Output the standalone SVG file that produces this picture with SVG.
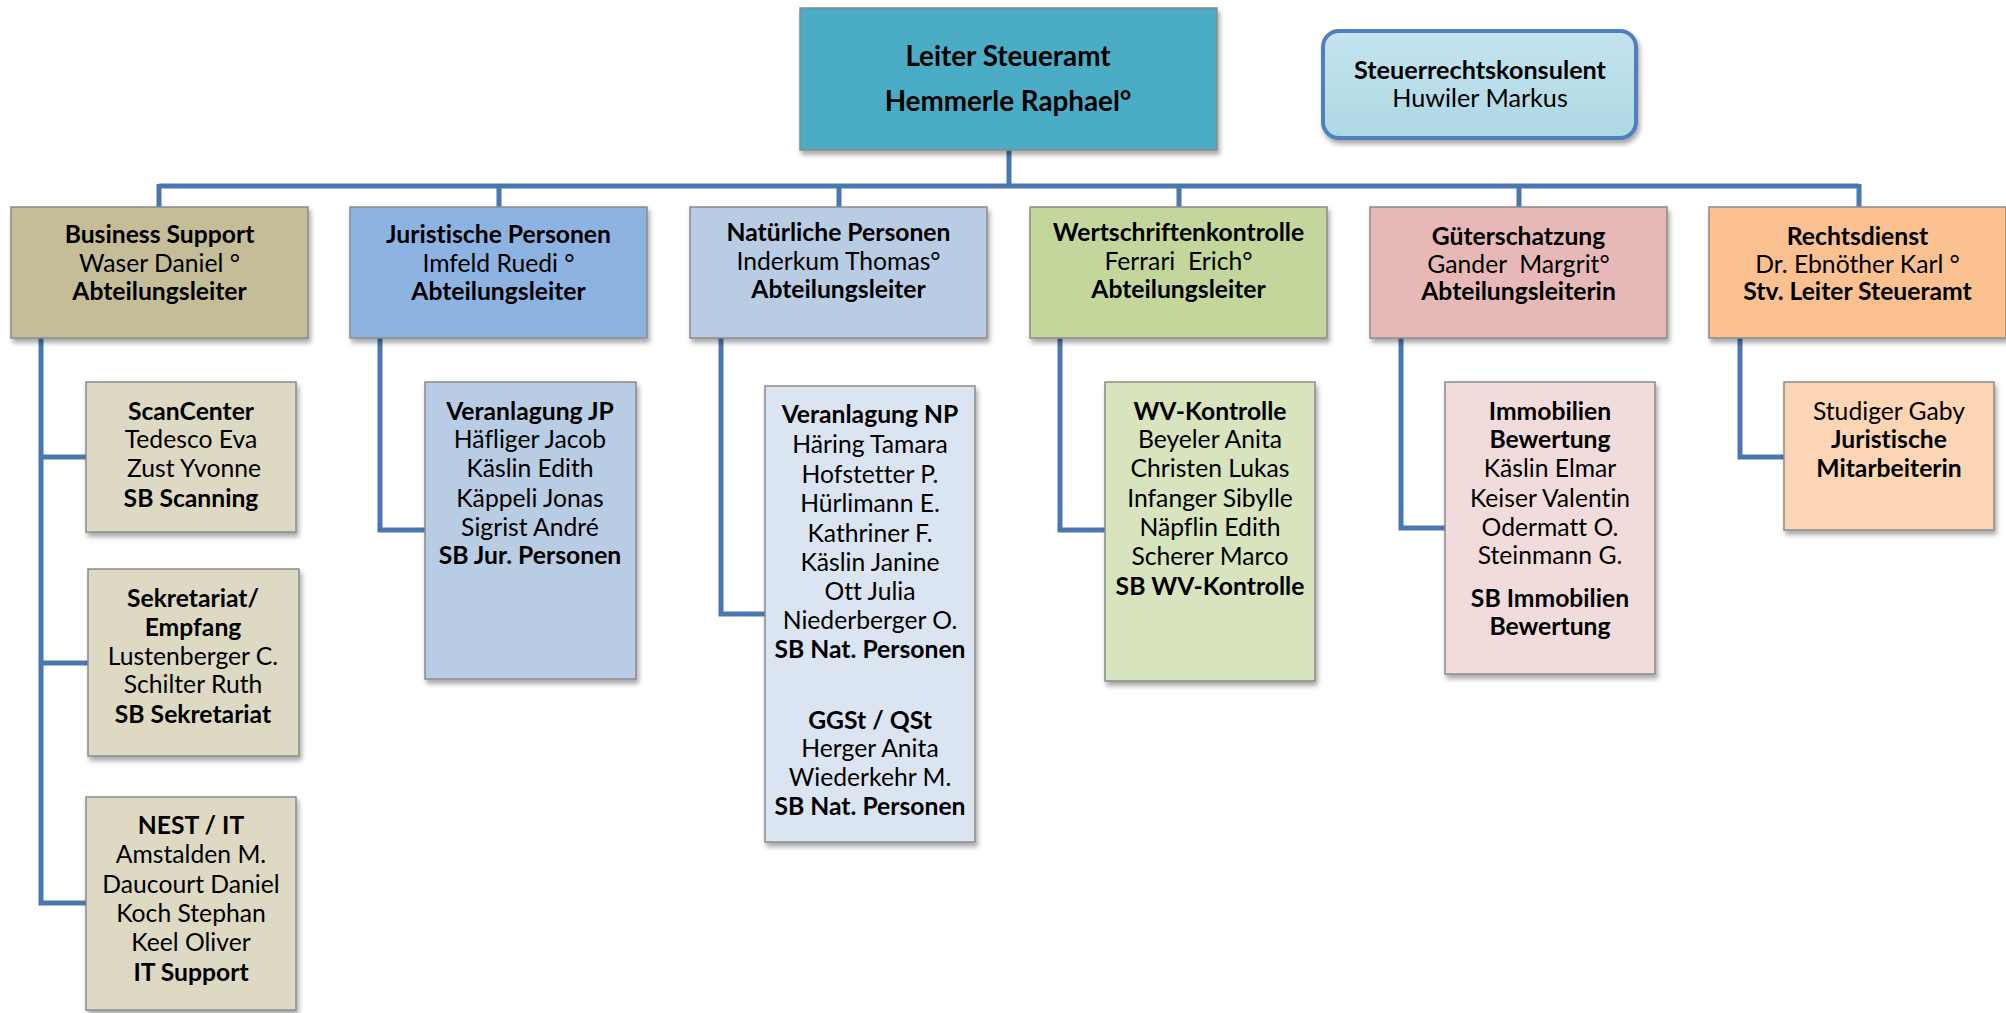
<svg xmlns="http://www.w3.org/2000/svg" width="2006" height="1013" viewBox="0 0 2006 1013">
<defs>
<filter id="sh" x="-10%" y="-10%" width="125%" height="125%">
<feDropShadow dx="2" dy="4" stdDeviation="2.5" flood-color="#000" flood-opacity="0.35"/>
</filter>
<linearGradient id="kg" x1="0" y1="0" x2="0" y2="1">
<stop offset="0" stop-color="#C4E4EE"/>
<stop offset="1" stop-color="#ADD8E4"/>
</linearGradient>
</defs>
<style>
text{font-family:Lato,"Liberation Sans",sans-serif;font-size:24.7px;fill:#000;text-anchor:middle;white-space:pre;font-variant-ligatures:none;font-feature-settings:"liga" 0,"dlig" 0}
.b{font-weight:bold}
text.big{font-size:27.8px}
text.k{font-size:25.2px}
.box{stroke:#8A8A8A;stroke-width:1.5;filter:url(#sh)}
.con{fill:none;stroke:#4A76B2;stroke-width:5;stroke-linejoin:miter}
</style>
<rect width="2006" height="1013" fill="#fff"/>
<g id="connectors">
<path class="con" d="M1009 150V186M159 186H1859M159 184V207M499 184V207M839 184V207M1179 184V207M1519 184V207M1859 184V207"/>
<path class="con" d="M41 338V903H86M41 457H86M41 663H88"/>
<path class="con" d="M380 338V530H425"/>
<path class="con" d="M721 338V614H765"/>
<path class="con" d="M1060 338V530H1105"/>
<path class="con" d="M1401 338V528H1445"/>
<path class="con" d="M1740 338V457H1784"/>
</g>
<g id="leiter">
<rect class="box" x="800" y="8" width="417" height="142" fill="#4BACC6"/>
<text class="b big" x="1008" y="66">Leiter Steueramt</text>
<text class="b big" x="1008" y="111">Hemmerle Raphael°</text>
</g>
<g id="konsulent">
<rect x="1323" y="31" width="313" height="107" rx="16" fill="url(#kg)" stroke="#4F7FBE" stroke-width="4" filter="url(#sh)"/>
<text class="b k" x="1480" y="79">Steuerrechtskonsulent</text>
<text class="k" x="1480" y="107">Huwiler Markus</text>
</g>
<g id="business-support">
<rect class="box" x="11" y="207" width="297" height="131" fill="#C4BD97"/>
<text class="b" x="159.5" y="243">Business Support</text>
<text x="159.5" y="272">Waser Daniel °</text>
<text class="b" x="159.5" y="300">Abteilungsleiter</text>
</g>
<g id="juristische-personen">
<rect class="box" x="350" y="207" width="297" height="131" fill="#8DB3E2"/>
<text class="b" x="498.5" y="243">Juristische Personen</text>
<text x="498.5" y="272">Imfeld Ruedi °</text>
<text class="b" x="498.5" y="300">Abteilungsleiter</text>
</g>
<g id="natuerliche-personen">
<rect class="box" x="690" y="207" width="297" height="131" fill="#B8CCE4"/>
<text class="b" x="838.5" y="241">Natürliche Personen</text>
<text x="838.5" y="270">Inderkum Thomas°</text>
<text class="b" x="838.5" y="298">Abteilungsleiter</text>
</g>
<g id="wertschriftenkontrolle">
<rect class="box" x="1030" y="207" width="297" height="131" fill="#C3D69B"/>
<text class="b" x="1178.5" y="241">Wertschriftenkontrolle</text>
<text x="1178.5" y="270">Ferrari  Erich°</text>
<text class="b" x="1178.5" y="298">Abteilungsleiter</text>
</g>
<g id="gueterschatzung">
<rect class="box" x="1370" y="207" width="297" height="131" fill="#E6B9B8"/>
<text class="b" x="1518.5" y="245">Güterschatzung</text>
<text x="1518.5" y="273">Gander  Margrit°</text>
<text class="b" x="1518.5" y="300">Abteilungsleiterin</text>
</g>
<g id="rechtsdienst">
<rect class="box" x="1709" y="207" width="297" height="131" fill="#FAC090"/>
<text class="b" x="1857.5" y="245">Rechtsdienst</text>
<text x="1857.5" y="273">Dr. Ebnöther Karl °</text>
<text class="b" x="1857.5" y="300">Stv. Leiter Steueramt</text>
</g>
<g id="scancenter">
<rect class="box" x="86" y="382" width="210" height="150" fill="#DDD9C3"/>
<text class="b" x="191" y="420">ScanCenter</text>
<text x="191" y="448">Tedesco Eva</text>
<text x="194" y="477">Zust Yvonne</text>
<text class="b" x="191" y="507">SB Scanning</text>
</g>
<g id="sekretariat">
<rect class="box" x="88" y="569" width="211" height="187" fill="#DDD9C3"/>
<text class="b" x="193" y="607">Sekretariat/</text>
<text class="b" x="193" y="636">Empfang</text>
<text x="193" y="665">Lustenberger C.</text>
<text x="193" y="693">Schilter Ruth</text>
<text class="b" x="193" y="723">SB Sekretariat</text>
</g>
<g id="nest-it">
<rect class="box" x="86" y="797" width="210" height="213" fill="#DDD9C3"/>
<text class="b" x="191" y="834">NEST / IT</text>
<text x="191" y="863">Amstalden M.</text>
<text x="191" y="893">Daucourt Daniel</text>
<text x="191" y="922">Koch Stephan</text>
<text x="191" y="951">Keel Oliver</text>
<text class="b" x="191" y="981">IT Support</text>
</g>
<g id="veranlagung-jp">
<rect class="box" x="425" y="382" width="211" height="297" fill="#B8CCE4"/>
<text class="b" x="530" y="420">Veranlagung JP</text>
<text x="530" y="448">Häfliger Jacob</text>
<text x="530" y="477">Käslin Edith</text>
<text x="530" y="507">Käppeli Jonas</text>
<text x="530" y="536">Sigrist André</text>
<text class="b" x="530" y="564">SB Jur. Personen</text>
</g>
<g id="veranlagung-np">
<rect class="box" x="765" y="386" width="210" height="456" fill="#DBE5F1"/>
<text class="b" x="870" y="423">Veranlagung NP</text>
<text x="870" y="453">Häring Tamara</text>
<text x="870" y="483">Hofstetter P.</text>
<text x="870" y="512">Hürlimann E.</text>
<text x="870" y="542">Kathriner F.</text>
<text x="870" y="571">Käslin Janine</text>
<text x="870" y="600">Ott Julia</text>
<text x="870" y="629">Niederberger O.</text>
<text class="b" x="870" y="658">SB Nat. Personen</text>
<text class="b" x="870" y="729">GGSt / QSt</text>
<text x="870" y="757">Herger Anita</text>
<text x="870" y="786">Wiederkehr M.</text>
<text class="b" x="870" y="815">SB Nat. Personen</text>
</g>
<g id="wv-kontrolle">
<rect class="box" x="1105" y="382" width="210" height="299" fill="#D7E4BD"/>
<text class="b" x="1210" y="420">WV-Kontrolle</text>
<text x="1210" y="448">Beyeler Anita</text>
<text x="1210" y="477">Christen Lukas</text>
<text x="1210" y="507">Infanger Sibylle</text>
<text x="1210" y="536">Näpflin Edith</text>
<text x="1210" y="565">Scherer Marco</text>
<text class="b" x="1210" y="595">SB WV-Kontrolle</text>
</g>
<g id="immobilien">
<rect class="box" x="1445" y="382" width="210" height="292" fill="#F2DCDB"/>
<text class="b" x="1550" y="420">Immobilien</text>
<text class="b" x="1550" y="448">Bewertung</text>
<text x="1550" y="477">Käslin Elmar</text>
<text x="1550" y="507">Keiser Valentin</text>
<text x="1550" y="536">Odermatt O.</text>
<text x="1550" y="564">Steinmann G.</text>
<text class="b" x="1550" y="607">SB Immobilien</text>
<text class="b" x="1550" y="635">Bewertung</text>
</g>
<g id="studiger">
<rect class="box" x="1784" y="382" width="210" height="148" fill="#FCD5B5"/>
<text x="1889" y="420">Studiger Gaby</text>
<text class="b" x="1889" y="448">Juristische</text>
<text class="b" x="1889" y="477">Mitarbeiterin</text>
</g>
</svg>
